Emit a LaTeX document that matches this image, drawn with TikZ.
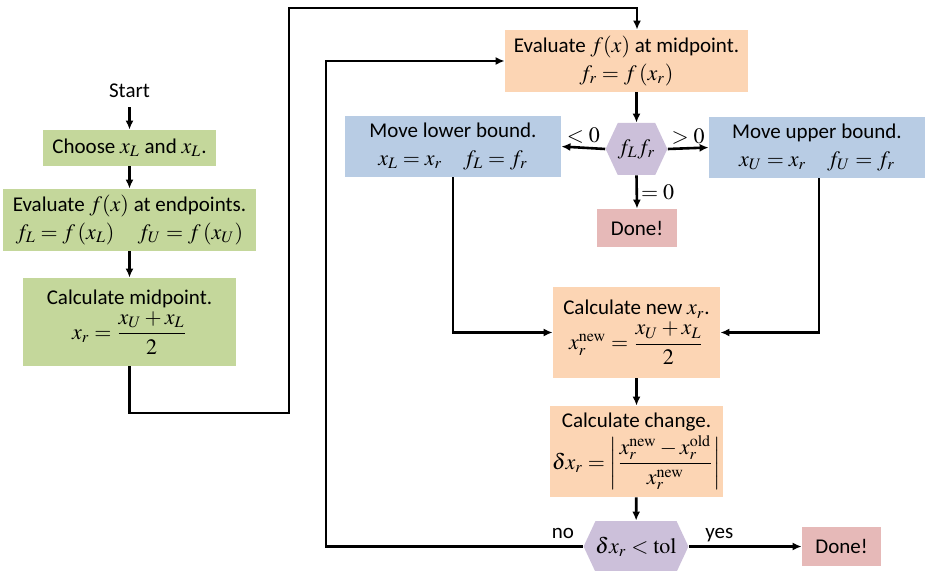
\documentclass[tikz,border=0pt]{standalone}
\usepackage{amsmath}
\usepackage{mathptmx}
\usepackage[no-math]{fontspec}
\setmainfont{Carlito}
\DeclareMathSizes{10.5}{11}{8}{6}
\usepackage{tikz}
\usetikzlibrary{arrows.meta, positioning, shapes.symbols}
\definecolor{stepgreen}{RGB}{196,215,155}
\definecolor{looporange}{RGB}{252,213,180}
\definecolor{boundblue}{RGB}{184,204,228}
\definecolor{testpurple}{RGB}{204,192,218}
\definecolor{donepink}{RGB}{230,185,184}

\begin{document}
\begin{tikzpicture}[
  x=0.5pt, y=-0.5pt,
  base/.style={rectangle, inner sep=0.5pt, align=center, font=\fontsize{10.5}{13}\selectfont},
  stepbox/.style={base, fill=stepgreen},
  evalbox/.style={base, fill=looporange},
  boundbox/.style={base, fill=boundblue, minimum width=108pt, minimum height=30.5pt},
  hexbox/.style={base, inner sep=0pt, signal, signal to=west and east, signal pointer angle=130, fill=testpurple},
  donebox/.style={base, fill=donepink, minimum width=40pt, minimum height=19pt},
  lbl/.style={font=\fontsize{10.5}{13}\selectfont, inner sep=1.5pt},
  flow/.style={draw, -{Latex[length=4.5pt,width=4pt]}, line width=1.3pt},
  every edge/.style={flow}
]
  \useasboundingbox (0,0) rectangle (937,571);

  % setup column
  \node[lbl] (start) at (129.5,91) {Start};
  \node[stepbox, minimum width=86.5pt, minimum height=18pt] (choose) at (129.5,148) {Choose $x_L$ and $x_L$.};
  \node[stepbox, minimum width=126.5pt, minimum height=31pt] (evalend) at (129.5,220)
    {Evaluate $f(x)$ at endpoints.\\[1pt] $f_L = f\left(x_L\right) \quad f_U = f\left(x_U\right)$};
  \node[stepbox, minimum width=106.5pt, minimum height=44pt] (calcmid) at (129.5,322)
    {Calculate midpoint.\\[1pt] $x_r = \dfrac{x_U + x_L}{2}$};

  \path (start) edge[shorten <=3pt] (choose);
  \path (choose) edge (evalend);
  \path (evalend) edge (calcmid);

  % loop body
  \node[evalbox, minimum width=121.5pt, minimum height=31pt] (evalmid) at (626.5,61)
    {Evaluate $f(x)$ at midpoint.\\[1pt] $f_r = f\left(x_r\right)$};
  \node[hexbox, minimum width=28.5pt, minimum height=26pt] (sign) at (636.5,149) {$f_L f_r$};
  \node[boundbox] (lower) at (453,146.5) {Move lower bound.\\[1pt] $x_L = x_r \quad f_L = f_r$};
  \node[boundbox] (upper) at (817,147.5) {Move upper bound.\\[1pt] $x_U = x_r \quad f_U = f_r$};
  \node[donebox] (done1) at (637,228) {Done!};
  \node[evalbox, minimum width=83.5pt, minimum height=45.5pt] (calcnew) at (636.5,332.5)
    {Calculate new $x_r$.\\[1pt] $x_r^{\mathrm{new}} = \dfrac{x_U + x_L}{2}$};
  \node[evalbox, minimum width=86.5pt, minimum height=45.5pt] (change) at (636.5,451.5)
    {Calculate change.\\[1pt] $\delta x_r = \left|\dfrac{x_r^{\mathrm{new}} - x_r^{\mathrm{old}}}{x_r^{\mathrm{new}}}\right|$};
  \node[hexbox, minimum width=49pt, minimum height=25.5pt] (conv) at (636,546.5) {$\delta x_r < \mathrm{tol}$};
  \node[donebox, minimum width=39.5pt, minimum height=19.5pt] (done2) at (841.5,546.5) {Done!};
  \node[lbl] (nolbl) at (563,533) {no};

  % into the loop
  \coordinate (upA) at (289,413);
  \coordinate (upB) at (637,8);
  \draw[flow] (calcmid.south) |- (upA) |- (upB) -- (upB |- evalmid.north);

  \path (evalmid.south -| sign) edge (sign.north);
  \path (sign.west) edge node[lbl, above] {$<0$} (lower.east);
  \path (sign.east) edge node[lbl, above] {$>0$} (upper.west);
  \path (sign.south) edge node[lbl, right] {$=0$} (done1.north);
  \draw[flow] (lower.south) |- (calcnew.west);
  \draw[flow] ([xshift=1pt]upper.south) |- (calcnew.east);
  \path (calcnew) edge (change);
  \path (change) edge (conv);
  \path (conv.east) edge node[lbl, above, pos=0.27] {yes} (done2.west);

  % back to the top
  \coordinate (backC) at (326,61);
  \draw[flow] (conv.west) -| (backC) -- (evalmid.west);
\end{tikzpicture}
\end{document}
